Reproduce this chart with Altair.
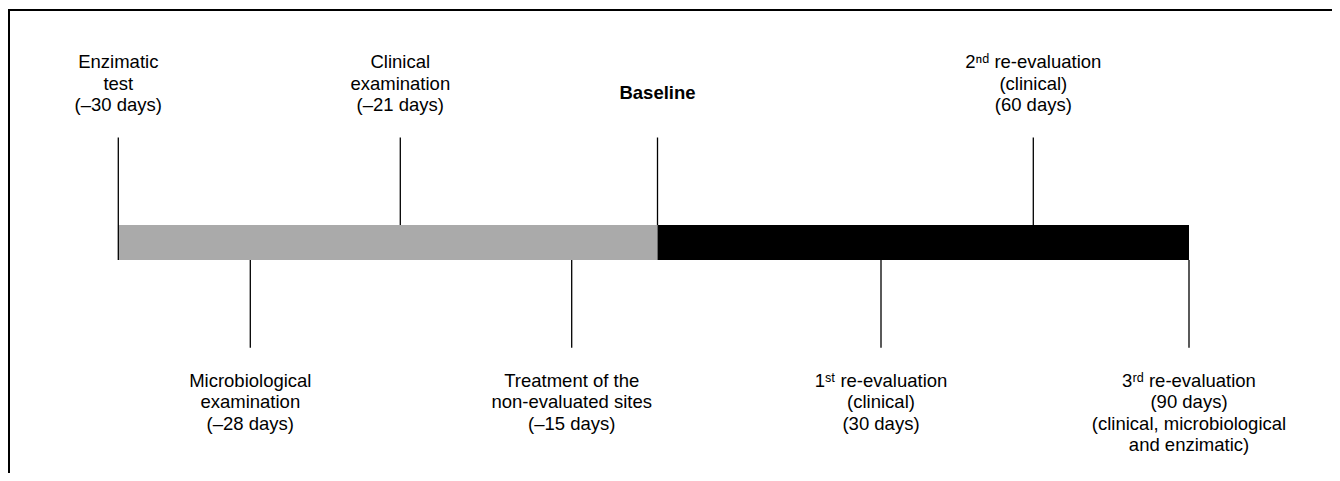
import altair as alt
import pandas as pd

# ---- data ------------------------------------------------------------------
# horizontal position of each event on the (not to scale) timeline
event_pos = [110.3, 242.3, 392.3, 563.7, 649.5, 873.0, 1025.3, 1181.0]
# which side of the bar the event label sits on
event_side = ["top", "bottom", "top", "bottom", "base", "bottom", "top", "bottom"]
event_labels = [
    ["Enzimatic", "test", "(–30 days)"],
    ["Microbiological", "examination", "(–28 days)"],
    ["Clinical", "examination", "(–21 days)"],
    ["Treatment of the", "non-evaluated sites", "(–15 days)"],
    ["Baseline"],
    ["1ˢᵗ re-evaluation", "(clinical)", "(30 days)"],
    ["2ⁿᵈ re-evaluation", "(clinical)", "(60 days)"],
    ["3ʳᵈ re-evaluation", "(90 days)", "(clinical, microbiological", "and enzimatic)"],
]
# vertical extent of each connector line
tick_from = [129.5, 252.0, 129.5, 252.0, 129.5, 252.0, 129.5, 252.0]
tick_to = [252.0, 339.7, 217.0, 339.7, 217.0, 339.7, 245.0, 339.7]
# vertical placement (first text baseline) for each label group
label_y = {"top": 60.0, "base": 90.5, "bottom": 378.5}

# phases of the bar
phase_names = ["pre-treatment", "follow-up"]
phase_start = [110.3, 649.5]
phase_end = [649.5, 1181.0]
phase_colors = ["#aaaaaa", "#000000"]
bar_top, bar_bottom = 217.0, 252.0

W, H = 1324, 465

events = pd.DataFrame({
    "pos": event_pos,
    "side": event_side,
    "label": event_labels,
    "y1": tick_from,
    "y2": tick_to,
})
events["ly"] = [label_y[s] for s in event_side]

phases = pd.DataFrame({
    "phase": phase_names,
    "start": phase_start,
    "end": phase_end,
    "top": [bar_top] * 2,
    "bottom": [bar_bottom] * 2,
})

xs = alt.Scale(domain=[0, W], nice=False, zero=False)
ys = alt.Scale(domain=[0, H], nice=False, zero=False, reverse=True)

bars = alt.Chart(phases).mark_rect().encode(
    x=alt.X("start:Q", scale=xs, axis=None),
    x2="end:Q",
    y=alt.Y("top:Q", scale=ys, axis=None),
    y2="bottom:Q",
    color=alt.Color("phase:N", scale=alt.Scale(domain=phase_names, range=phase_colors), legend=None),
)

ticks = alt.Chart(events).mark_rule(color="black", strokeWidth=1.3).encode(
    x=alt.X("pos:Q", scale=xs, axis=None),
    y=alt.Y("y1:Q", scale=ys, axis=None),
    y2="y2:Q",
)

text_common = dict(font="Liberation Sans", fontSize=18.5, lineHeight=21.5,
                   align="center", baseline="alphabetic", color="black")

labels = alt.Chart(events).transform_filter(
    alt.datum.side != "base"
).mark_text(**text_common).encode(
    x=alt.X("pos:Q", scale=xs, axis=None),
    y=alt.Y("ly:Q", scale=ys, axis=None),
    text="label",
)

base_label = alt.Chart(events).transform_filter(
    alt.datum.side == "base"
).mark_text(fontWeight="bold", **text_common).encode(
    x=alt.X("pos:Q", scale=xs, axis=None),
    y=alt.Y("ly:Q", scale=ys, axis=None),
    text="label",
)

frame_df = pd.DataFrame({"k": [0]})
frame_top = alt.Chart(frame_df).mark_rule(color="black", strokeWidth=2).encode(
    x=alt.value(-1), x2=alt.value(W), y=alt.value(2)
)
frame_left = alt.Chart(frame_df).mark_rule(color="black", strokeWidth=2).encode(
    x=alt.value(1), y=alt.value(1), y2=alt.value(H)
)

chart = alt.layer(bars, ticks, labels, base_label, frame_top, frame_left).properties(
    width=W, height=H,
    autosize=alt.AutoSizeParams(type="none"),
    padding=0,
    background="white",
).configure_view(stroke=None)

chart.save("out.html", embed_options={"renderer": "svg", "actions": False})
